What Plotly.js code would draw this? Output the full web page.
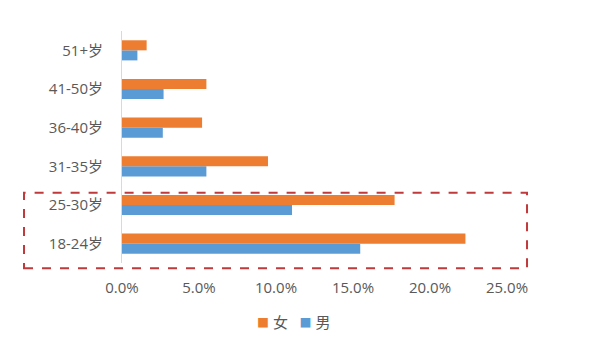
<!DOCTYPE html>
<html><head><meta charset="utf-8">
<script src="https://cdn.plot.ly/plotly-3.0.1.min.js"></script>
<style>html,body{margin:0;padding:0;background:#fff}#chart{width:600px;height:359px}</style>
</head><body><div id="chart"></div>
<script>
var categories = ['18-24岁','25-30岁','31-35岁','36-40岁','41-50岁','51+岁'];
var female = [0.223, 0.177, 0.0948, 0.052, 0.0548, 0.016];
var male = [0.1547, 0.1104, 0.0548, 0.0265, 0.027, 0.010];
var xTicks = [0, 0.05, 0.10, 0.15, 0.20, 0.25];
var xTickText = ['0.0%','5.0%','10.0%','15.0%','20.0%','25.0%'];
var seriesNames = ['女','男'];
var seriesColors = ['#ED7D31','#5B9BD5'];

var font = {family: '"Open Sans", "Noto Sans CJK SC", sans-serif', size: 15, color: '#595959'};
var data = [
  {type:'bar', orientation:'h', name:seriesNames[1], y:categories, x:male, marker:{color:seriesColors[1]}},
  {type:'bar', orientation:'h', name:seriesNames[0], y:categories, x:female, marker:{color:seriesColors[0]}}
];
var legendText = '<span style="color:' + seriesColors[0] + ';font-size:12px">■</span>&nbsp;' + seriesNames[0] +
  '&nbsp;&nbsp;&nbsp;<span style="color:' + seriesColors[1] + ';font-size:12px">■</span>&nbsp;' + seriesNames[1];
var layout = {
  width:600, height:359,
  margin:{l:122, r:93, t:31, b:96},
  paper_bgcolor:'#fff', plot_bgcolor:'#fff',
  font:font,
  barmode:'group', bargap:0.48, bargroupgap:0,
  showlegend:false,
  xaxis:{range:[0,0.25], tickvals:xTicks, ticktext:xTickText, showgrid:false, zeroline:false, showline:false, ticks:'', ticklabelstandoff:14, tickfont:font},
  yaxis:{type:'category', categoryorder:'array', categoryarray:categories, showgrid:false, zeroline:false, showline:true, linecolor:'#d9d9d9', linewidth:1, ticks:'', ticklabelstandoff:15, tickfont:font},
  annotations:[{xref:'paper', yref:'paper', x:0.448, y:-0.255, xanchor:'center', yanchor:'middle', showarrow:false, text:legendText, font:{family:font.family, size:15, color:'#595959'}}],
  shapes:[{type:'rect', xref:'paper', yref:'paper', x0:-0.2545, x1:1.052, y0:-0.0228, y1:0.303, line:{color:'#C0393B', width:2, dash:'dash'}, fillcolor:'rgba(0,0,0,0)'}]
};
Plotly.newPlot('chart', data, layout, {displayModeBar:false, staticPlot:true});
</script></body></html>
